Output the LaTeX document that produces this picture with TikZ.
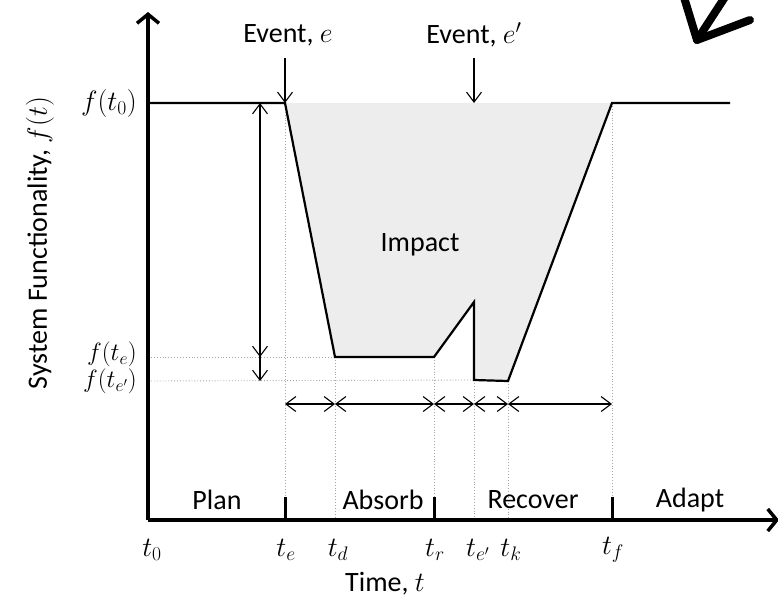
\documentclass[tikz,border=0pt]{standalone}
\usepackage{fix-cm}
\usepackage{fontspec}
\setmainfont{Carlito}
\usetikzlibrary{arrows.meta}
\begin{document}
\begin{tikzpicture}[x=1pt,y=-1pt,
  lbl/.style={font=\fontsize{28}{32}\selectfont, inner sep=0pt},
  smlbl/.style={font=\fontsize{25}{28}\selectfont, inner sep=0pt},
  axisline/.style={line width=3.5pt, -{Straight Barb[length=9pt,width=22pt,line width=3.5pt]}},
  curve/.style={line width=2.2pt, line join=miter},
  guide/.style={gray!70, dotted, line width=0.9pt},
  meas/.style={line width=1.1pt, {Straight Barb[length=10pt,width=15pt]}-{Straight Barb[length=10pt,width=15pt]}},
  measend/.style={line width=1.1pt, -{Straight Barb[length=10pt,width=15pt]}},
  tickm/.style={line width=3pt},
  bigarrow/.style={line width=8pt, line cap=round, line join=round}
]
\useasboundingbox (0,0) rectangle (778,598);
% coordinates
\coordinate (O) at (148,520);
\coordinate (Ytop) at (148,12);
\coordinate (Xend) at (779,520);
\coordinate (f0) at (148,103);
\coordinate (pe) at (285,103);
\coordinate (pd) at (335,357);
\coordinate (pr) at (434,357);
\coordinate (pq) at (474,302);
\coordinate (pq2) at (474,380);
\coordinate (pk) at (508,381);
\coordinate (pf) at (612,103);
\coordinate (pend) at (730,103);
% fill
\fill[black!7] (pe) -- (pd) -- (pr) -- (pq) -- (pq2) -- (pk) -- (pf) -- cycle;
% guides
\draw[guide] (148,357) -- (pd);
\draw[guide] (148,381) -- (pq2);
\draw[guide] (pe) -- (285,520);
\draw[guide] (pd) -- (335,520);
\draw[guide] (pr) -- (434,520);
\draw[guide] (pq2) -- (474,520);
\draw[guide] (pk) -- (508,520);
\draw[guide] (pf) -- (612,520);
% function
\draw[curve] (f0) -- (pe) -- (pd) -- (pr) -- (pq) -- (pq2) -- (pk) -- (pf) -- (pend);
% axes
\draw[axisline] (O) -- (Ytop);
\draw[axisline] (O) -- (Xend);
% ticks
\draw[tickm] (285,520) -- (285,497);
\draw[tickm] (434,520) -- (434,497);
\draw[tickm] (612,520) -- (612,497);
% events
\node[lbl] (ev1) at (288,35) {Event, $e$};
\node[lbl] (ev2) at (474,35) {Event, $e'$};
\coordinate (ev1s) at (285,58);
\coordinate (ev2s) at (474,58);
\coordinate (ev2t) at (474,103);
\draw[measend] (ev1s) -- (pe);
\draw[measend] (ev2s) -- (ev2t);
% vertical measures
\coordinate (vt) at (260,103);
\coordinate (vm) at (260,357);
\coordinate (vb) at (260,381);
\draw[meas] (vt) -- (vm);
\draw[measend] (vt) -- (vb);
% horizontal measures
\coordinate (h1) at (285,404);
\coordinate (h2) at (335,404);
\coordinate (h3) at (434,404);
\coordinate (h4) at (474,404);
\coordinate (h5) at (508,404);
\coordinate (h6) at (612,404);
\draw[meas] (h1) -- (h2);
\draw[meas] (h2) -- (h3);
\draw[meas] (h3) -- (h4);
\draw[meas] (h4) -- (h5);
\draw[meas] (h5) -- (h6);
% y labels
\node[lbl, anchor=east] (ly0) at (137,103) {$f(t_0)$};
\node[smlbl, anchor=south east] (lye) at (137,367) {$f(t_e)$};
\node[smlbl, anchor=north east] (lyq) at (137,369) {$f(t_{e'})$};
\node[lbl, rotate=90] (ylab) at (40,243) {System Functionality, $f(t)$};
% x labels
\node[lbl] (x0) at (152,550) {$t_0$};
\node[lbl] (xe) at (286,550) {$t_e$};
\node[lbl] (xd) at (338,550) {$t_d$};
\node[lbl] (xr) at (435,550) {$t_r$};
\node[lbl] (xq) at (478,550) {$t_{e'}$};
\node[lbl] (xk) at (511,550) {$t_k$};
\node[lbl] (xf) at (613,550) {$t_f$};
\node[lbl] (xlab) at (385,584) {Time, $t$};
% phases
\node[lbl] (plan) at (217,500) {Plan};
\node[lbl] (absorb) at (383,500) {Absorb};
\node[lbl] (recover) at (533,500) {Recover};
\node[lbl] (adapt) at (690,500) {Adapt};
\node[lbl] (impact) at (420,245) {Impact};
% big arrow
\draw[bigarrow] (727,-6) -- (697,40);
\draw[bigarrow] (683,-6) -- (697,40) -- (750,20);
\end{tikzpicture}
\end{document}
